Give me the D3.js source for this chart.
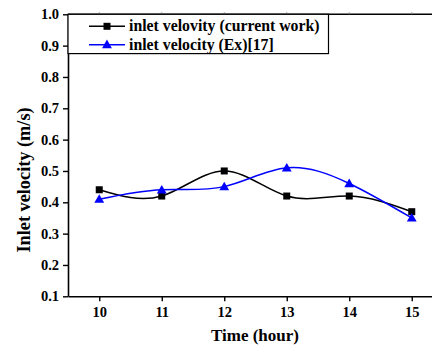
<!DOCTYPE html>
<html>
<head>
<meta charset="utf-8">
<script src="https://cdn.jsdelivr.net/npm/d3@7"></script>
<style>
html,body{margin:0;padding:0;background:#fff;}
svg{display:block;}
text{font-family:"Liberation Serif","Times New Roman",serif;font-weight:bold;fill:#000;}
</style>
</head>
<body>
<svg id="chart" width="432" height="347"></svg>
<script>
const hours = [10, 11, 12, 13, 14, 15];
const currentWork = [0.44, 0.42, 0.50, 0.42, 0.42, 0.37];
const experimental = [0.41, 0.44, 0.45, 0.51, 0.46, 0.35];
const yTicks = [0.1, 0.2, 0.3, 0.4, 0.5, 0.6, 0.7, 0.8, 0.9, 1.0];
const seriesNames = ["inlet velovity (current work)", "inlet velocity (Ex)[17]"];
const seriesColors = ["#000000", "#0000ff"];

const svg = d3.select("#chart");
const L = 68, R = 443, T = 14.3, B = 296.3;
const x = d3.scaleLinear().domain([9.5, 15.5]).range([L, R]);
const y = d3.scaleLinear().domain([0.1, 1.0]).range([B, T]);

// bottom axis
const xAxis = d3.axisBottom(x).tickValues(hours).tickSize(5).tickSizeOuter(0).tickFormat(d3.format("d"));
const gx = svg.append("g").attr("transform", `translate(0,${B})`).call(xAxis);
gx.select(".domain").attr("stroke-width", 1.6);
gx.selectAll(".tick line").attr("stroke-width", 1.4);
gx.selectAll(".tick text").attr("dy", 0).attr("y", 21).style("font-size", "14.5px").style("font-family", "Liberation Serif").style("font-weight", "bold");

// left axis
const yAxis = d3.axisLeft(y).tickValues(yTicks).tickSize(5).tickSizeOuter(0).tickFormat(d3.format(".1f"));
const gy = svg.append("g").attr("transform", `translate(${L},0)`).call(yAxis);
gy.select(".domain").attr("stroke-width", 1.6);
gy.selectAll(".tick line").attr("stroke-width", 1.4);
gy.selectAll(".tick text").attr("x", -9).style("font-size", "14.5px").style("font-family", "Liberation Serif").style("font-weight", "bold");

// top frame with small tick marks
svg.append("line").attr("x1", L).attr("x2", R).attr("y1", T).attr("y2", T).attr("stroke", "#000").attr("stroke-width", 1.6);
svg.append("g").selectAll("line").data(hours).join("line")
  .attr("x1", d => x(d)).attr("x2", d => x(d)).attr("y1", T).attr("y2", T - 2)
  .attr("stroke", "#888").attr("stroke-width", 1);
svg.append("line").attr("x1", R).attr("x2", R).attr("y1", T).attr("y2", B).attr("stroke", "#000").attr("stroke-width", 1.6);

// series
const line = d3.line().x((d, i) => x(hours[i])).y(d => y(d)).curve(d3.curveNatural);
const allSeries = [currentWork, experimental];
allSeries.forEach((vals, si) => {
  svg.append("path").datum(vals).attr("d", line).attr("fill", "none")
    .attr("stroke", seriesColors[si]).attr("stroke-width", 1.5);
  const g = svg.append("g");
  if (si === 0) {
    g.selectAll("rect").data(vals).join("rect")
      .attr("x", (d, i) => x(hours[i]) - 3.5).attr("y", d => y(d) - 3.5)
      .attr("width", 7).attr("height", 7).attr("fill", seriesColors[si]);
  } else {
    const tri = d3.symbol().type(d3.symbolTriangle).size(42);
    g.selectAll("path").data(vals).join("path")
      .attr("d", tri).attr("transform", (d, i) => `translate(${x(hours[i])},${y(d) + 0.8})`)
      .attr("fill", seriesColors[si]);
  }
});

// legend
const lg = svg.append("g");
lg.append("rect").attr("x", L).attr("y", T).attr("width", 260.5).attr("height", 39.3)
  .attr("fill", "#fff").attr("stroke", "#000").attr("stroke-width", 1.2);
seriesNames.forEach((name, i) => {
  const cy = 26.3 + i * 18.5;
  lg.append("line").attr("x1", 89).attr("x2", 125).attr("y1", cy).attr("y2", cy)
    .attr("stroke", seriesColors[i]).attr("stroke-width", 1.5);
  if (i === 0) {
    lg.append("rect").attr("x", 107 - 3.5).attr("y", cy - 3.5).attr("width", 7).attr("height", 7).attr("fill", seriesColors[i]);
  } else {
    lg.append("path").attr("d", d3.symbol().type(d3.symbolTriangle).size(42)).attr("transform", `translate(107,${cy + 0.5})`).attr("fill", seriesColors[i]);
  }
  lg.append("text").attr("x", 129).attr("y", cy + 5).style("font-size", "15.8px").text(name);
});

// axis titles
svg.append("text").attr("x", 255).attr("y", 341).attr("text-anchor", "middle").style("font-size", "17px").text("Time (hour)");
svg.append("text").attr("transform", "translate(30,180) rotate(-90)").attr("text-anchor", "middle").style("font-size", "18.3px").text("Inlet velocity (m/s)");
</script>
</body>
</html>
